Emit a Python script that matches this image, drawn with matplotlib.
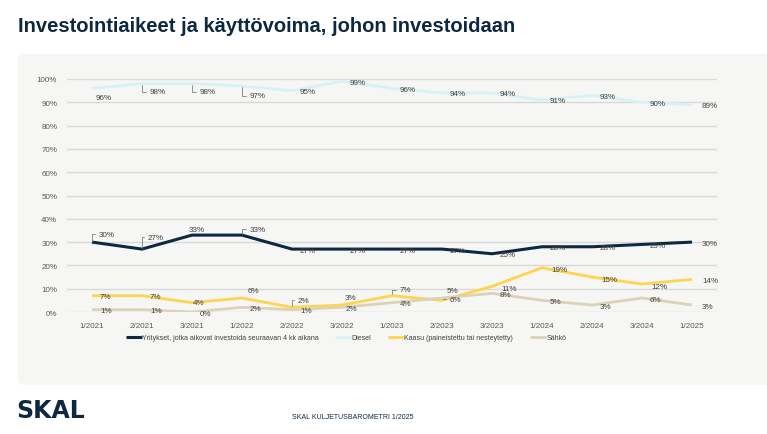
import matplotlib.pyplot as plt
import matplotlib.patches as patches
from matplotlib.ticker import PercentFormatter

FONT = ['Liberation Sans', 'DejaVu Sans']
plt.rcParams['font.family'] = FONT

# data
periods = ['1/2021', '2/2021', '3/2021', '1/2022', '2/2022', '3/2022', '1/2023',
           '2/2023', '3/2023', '1/2024', '2/2024', '3/2024', '1/2025']
yritykset = [30, 27, 33, 33, 27, 27, 27, 27, 25, 28, 28, 29, 30]
diesel = [96, 98, 98, 97, 95, 99, 96, 94, 94, 91, 93, 90, 89]
kaasu = [7, 7, 4, 6, 2, 3, 7, 5, 11, 19, 15, 12, 14]
sahko = [1, 1, 0, 2, 1, 2, 4, 6, 8, 5, 3, 6, 3]

series_names = ['Yritykset, jotka aikovat investoida seuraavan 4 kk aikana',
                'Diesel', 'Kaasu (paineistettu tai nesteytetty)', 'Sähkö']

navy = '#0e2841'
c_diesel = '#d6f2f8'
c_kaasu = '#ffd44f'
c_sahko = '#dcd2b8'
panel = '#f6f6f4'
txt = '#404040'

W, H = 767, 435
fig = plt.figure(figsize=(W / 100, H / 100), dpi=100)
fig.patch.set_facecolor('white')

# light grey panel behind the chart
bg = patches.FancyBboxPatch((18 / W, 1 - 386 / H), 780 / W, 331 / H,
                            boxstyle='round,pad=0,rounding_size=0.012',
                            transform=fig.transFigure, facecolor=panel,
                            edgecolor='none', zorder=-5)
fig.patches.append(bg)

fig.text(18 / W, 1 - 26 / H, 'Investointiaikeet ja käyttövoima, johon investoidaan',
         fontsize=14.5, fontweight='bold', color=navy, va='center', ha='left')

ax = fig.add_axes([67 / W, 1 - 313 / H, 650 / W, 233 / H])
ax.set_facecolor('none')
x = list(range(len(periods)))

lines = [
    (yritykset, navy, 2.2, 4),
    (diesel, c_diesel, 2.0, 3),
    (kaasu, c_kaasu, 2.0, 3),
    (sahko, c_sahko, 2.0, 3),
]
handles = []
for (vals, col, lw, z), name in zip(lines, series_names):
    h, = ax.plot(x, vals, color=col, lw=lw, zorder=z, label=name,
                 solid_capstyle='butt')
    handles.append(h)

ax.set_xlim(-0.5, len(periods) - 0.5)
ax.set_ylim(0, 100)
ax.set_yticks(range(0, 101, 10))
ax.yaxis.set_major_formatter(PercentFormatter(decimals=0))
ax.set_xticks(x)
ax.set_xticklabels(periods)
ax.tick_params(length=0, labelsize=5.8, colors='#595959', pad=7)
ax.tick_params(axis='y', pad=7)
ax.grid(axis='y', color='#d9d9d9', lw=1)
ax.set_axisbelow(True)
for s in ax.spines.values():
    s.set_visible(False)

# label offsets in pixels (dx, up), default right of the point
default = (8, -1)
special = {
    0: {0: (7, 8), 1: (6, 12), 2: (-3, 6), 3: (8, 6)},
    1: {0: (4, -9), 1: (8, -8), 2: (8, -8), 3: (8, -10)},
    2: {2: (1, 0), 3: (6, 8), 4: (6, 7), 5: (3, 8), 6: (8, 6), 7: (5, 10),
        8: (9, -2), 9: (9, -2), 10: (9, -2), 11: (9, -2)},
    3: {5: (4, -1)},
}
leaders = {
    0: [0, 1, 3],
    1: [1, 2, 3],
    2: [4, 6],
    3: [7],
}
for si, (vals, col, lw, z) in enumerate(lines):
    for i, v in enumerate(vals):
        dx, up = special.get(si, {}).get(i, default)
        if i == len(vals) - 1:
            dx = 10
        ap = None
        if i in leaders.get(si, []):
            ap = dict(arrowstyle='-', color='#7f7f7f', lw=0.6,
                      connectionstyle='angle,angleA=0,angleB=90,rad=0',
                      shrinkA=1, shrinkB=1)
        ax.annotate(f'{v}%', (i, v), xytext=(dx, up),
                    textcoords='offset pixels', fontsize=5.8, color=txt,
                    ha='left', va='center', arrowprops=ap, zorder=6)

fig.legend(handles=handles, loc='center', bbox_to_anchor=(346 / W, 1 - 339 / H),
           ncol=4, frameon=False, fontsize=5, handlelength=2.3,
           handletextpad=0.05, columnspacing=2.4, labelcolor=txt)

fig.text(16 / W, 1 - 411 / H, 'SKAL', fontsize=17, fontweight='bold',
         family=['DejaVu Sans'], color=navy, va='center', ha='left')
fig.text(353 / W, 1 - 418 / H, 'SKAL KULJETUSBAROMETRI 1/2025', fontsize=5,
         color=navy, va='center', ha='center')

fig.savefig('out.png', dpi=100)
